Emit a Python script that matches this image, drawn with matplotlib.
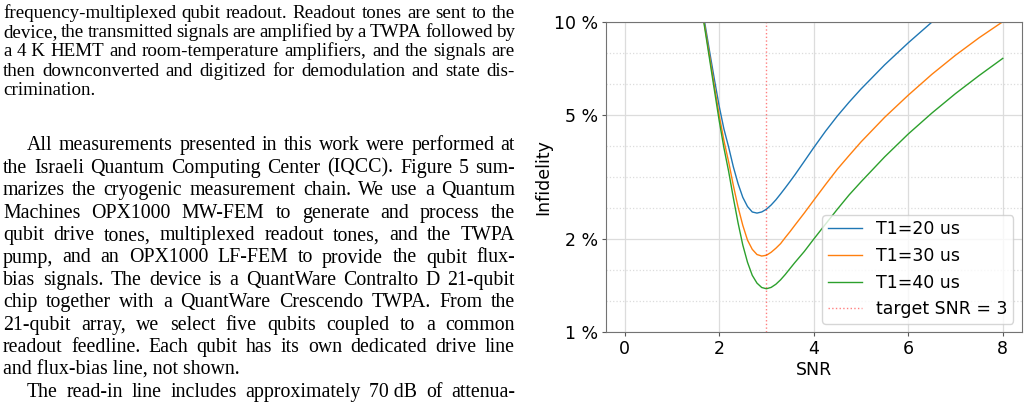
import numpy as np
import matplotlib
matplotlib.use("Agg")
import matplotlib.pyplot as plt
from matplotlib.ticker import FixedLocator, FixedFormatter, NullFormatter

# ---------------- data ----------------
snr = [1.5, 1.6, 1.7, 1.8, 1.9, 2.0, 2.1, 2.2, 2.3, 2.4, 2.5, 2.6, 2.7, 2.8, 2.9,
       3.0, 3.1, 3.2, 3.3, 3.4, 3.5, 3.6, 3.8, 4.0, 4.25, 4.5, 4.75, 5.0, 5.5,
       6.0, 6.5, 7.0, 7.5, 8.0]
inf_t1_20 = [14.97, 12.13, 9.83, 7.98, 6.51, 5.35, 4.52, 3.95, 3.41, 3.01, 2.72, 2.54, 2.44, 2.42, 2.44,
             2.49, 2.57, 2.67, 2.79, 2.92, 3.06, 3.21, 3.55, 3.93, 4.44, 4.97, 5.51, 6.07, 7.26,
             8.55, 9.97, 11.5, 13.14, 14.9]
inf_t1_30 = [14.77, 11.90, 9.58, 7.70, 6.19, 5.01, 4.15, 3.54, 2.97, 2.53, 2.21, 1.98, 1.85, 1.78, 1.76,
             1.77, 1.81, 1.865, 1.93, 2.02, 2.11, 2.21, 2.42, 2.66, 2.99, 3.35, 3.71, 4.10, 4.92,
             5.80, 6.77, 7.80, 8.88, 10.0]
inf_t1_40 = [14.65, 11.77, 9.43, 7.53, 6.01, 4.81, 3.93, 3.30, 2.71, 2.25, 1.91, 1.68, 1.526, 1.44, 1.394,
             1.381, 1.395, 1.428, 1.476, 1.536, 1.605, 1.676, 1.82, 1.995, 2.23, 2.49, 2.77, 3.05, 3.67,
             4.35, 5.08, 5.87, 6.71, 7.62]
series_labels = ["T1=20 us", "T1=30 us", "T1=40 us"]
target_snr = 3
target_label = "target SNR = 3"
x_ticks = [0, 2, 4, 6, 8]
y_ticks = [1, 2, 5, 10]
y_tick_labels = ["1 %", "2 %", "5 %", "10 %"]
x_label = "SNR"
y_label = "Infidelity"

caption_lines = [
    "frequency-multiplexed qubit readout. Readout tones are sent to the",
    "device, the transmitted signals are amplified by a TWPA followed by",
    "a 4~K HEMT and room-temperature amplifiers, and the signals are",
    "then downconverted and digitized for demodulation and state dis-",
    "crimination.",
]
body_lines = [
    "All measurements presented in this work were performed at",
    "the Israeli Quantum Computing Center (IQCC). Figure 5 sum-",
    "marizes the cryogenic measurement chain. We use a Quantum",
    "Machines OPX1000 MW-FEM to generate and process the",
    "qubit drive tones, multiplexed readout tones, and the TWPA",
    "pump, and an OPX1000 LF-FEM to provide the qubit flux-",
    "bias signals. The device is a QuantWare Contralto D 21-qubit",
    "chip together with a QuantWare Crescendo TWPA. From the",
    "21-qubit array, we select five qubits coupled to a common",
    "readout feedline. Each qubit has its own dedicated drive line",
    "and flux-bias line, not shown.",
    "The read-in line includes approximately 70~dB of attenua-",
]

# ---------------- figure ----------------
W, H = 1029, 405
fig = plt.figure(figsize=(W / 100, H / 100), dpi=100)
renderer = fig.canvas.get_renderer()
serif = "Liberation Serif"
PX_PER_PT = 100 / 72


def word_width(word, size):
    t = fig.text(0, 0, word, fontsize=size, family=serif)
    w = t.get_window_extent(renderer).width
    t.remove()
    return w


def line_size(words, avail, target, ref=10.0, min_space=0.14):
    per_pt = sum(word_width(w, ref) for w in words) / ref + (len(words) - 1) * min_space * PX_PER_PT
    return min(target, avail / per_pt)


def draw_paragraph(lines, baselines, indents, justify, x_right, target):
    for line, yb, ind, just in zip(lines, baselines, indents, justify):
        x0 = 3 + ind
        if not just:
            fig.text(x0 / W, 1 - yb / H, line.replace("~", " "), fontsize=target,
                     family=serif, va="baseline", ha="left")
            continue
        words = [w.replace("~", " ") for w in line.split(" ")]
        size = line_size(words, x_right - x0, target)
        widths = [word_width(w, size) for w in words]
        gap = (x_right - x0 - sum(widths)) / (len(words) - 1)
        x = x0
        for w, ww in zip(words, widths):
            fig.text(x / W, 1 - yb / H, w, fontsize=size, family=serif,
                     va="baseline", ha="left")
            x += ww + gap


x_right = 515
cap_ind = [0] * 5
cap_just = [True, True, True, True, False]
cap_base = [18.0 + 19.2 * i for i in range(5)]
draw_paragraph(caption_lines, cap_base, cap_ind, cap_just, x_right, 13.7)

body_ind = [24] + [0] * 10 + [24]
body_just = [True] * 10 + [False, True]
body_base = [150.5 + 22.4 * i for i in range(12)]
draw_paragraph(body_lines, body_base, body_ind, body_just, x_right, 14.3)

# ---------------- chart ----------------
ax = fig.add_axes([605.7 / W, 1 - 332.3 / H, (1021.7 - 605.7) / W, (332.3 - 21.7) / H])
colors = ["#1f77b4", "#ff7f0e", "#2ca02c"]
for ys, lab, c in zip([inf_t1_20, inf_t1_30, inf_t1_40], series_labels, colors):
    ax.plot(snr, ys, color=c, lw=1.0, label=lab)
ax.axvline(target_snr, color="red", ls=":", lw=1.0, alpha=0.5, label=target_label)

ax.set_yscale("log")
ax.set_ylim(1, 10)
ax.set_xlim(-0.4, 8.4)
ax.set_xticks(x_ticks)
ax.yaxis.set_major_locator(FixedLocator(y_ticks))
ax.yaxis.set_major_formatter(FixedFormatter(y_tick_labels))
minor_vals = [10 ** (k / 10) for k in range(1, 10) if k not in (3, 7)]
ax.yaxis.set_minor_locator(FixedLocator(minor_vals))
ax.yaxis.set_minor_formatter(NullFormatter())
ax.tick_params(which="minor", length=0)
ax.tick_params(which="major", labelsize=12.5, length=3.0, pad=2.5, color="0.35")
ax.grid(True, which="major", color="#dcdcdc", lw=0.9)
ax.grid(True, which="minor", axis="y", color="#dcdcdc", lw=0.9, ls=":")
ax.set_axisbelow(True)
for s in ax.spines.values():
    s.set_color("0.45")
ax.set_xlabel(x_label, fontsize=12.5, labelpad=2)
ax.set_ylabel(y_label, fontsize=12.5, labelpad=1.5)
ax.legend(loc="lower right", fontsize=12.5, borderaxespad=0.5, borderpad=0.3)

fig.savefig("out.png", dpi=100)
